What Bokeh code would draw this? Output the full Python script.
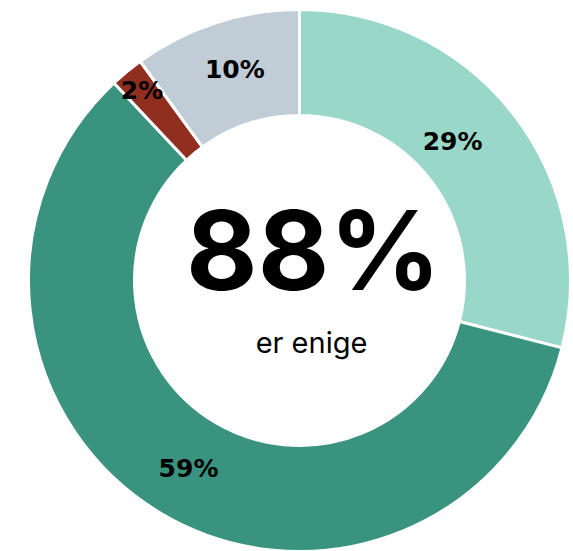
import math
from bokeh.plotting import figure
from bokeh.models import ColumnDataSource
from bokeh.core.properties import value
from bokeh.embed import file_html
from bokeh.resources import INLINE

# Data
categories = ["Enig", "Helt enig", "Helt uenig", "Uenig"]
shares = [29, 59, 2, 10]
labels = ["29%", "59%", "2%", "10%"]
colors = ["#99d8c9", "#3a937f", "#902e20", "#c0ccd6"]
center_value = "88%"
center_caption = "er enige"

# layout
R_OUT, R_IN = 271, 165
label_r = [207, 218, 247, 221]
label_shift_deg = [-4.5, 0, 0, 1]

total = sum(shares)
starts, ends, lx, ly = [], [], [], []
cum = 0.0
for i, s in enumerate(shares):
    a0 = cum / total * 2 * math.pi
    cum += s
    a1 = cum / total * 2 * math.pi
    # clockwise from top -> bokeh counterclockwise from +x
    starts.append(math.pi / 2 - a1)
    ends.append(math.pi / 2 - a0)
    mid = (a0 + a1) / 2 + math.radians(label_shift_deg[i])
    lx.append(label_r[i] * math.sin(mid))
    ly.append(label_r[i] * math.cos(mid))

src = ColumnDataSource(dict(cat=categories, start=starts, end=ends, color=colors,
                            lx=lx, ly=ly, label=labels))

W, H = 573, 551
CX, CY = 299, 280
p = figure(width=W, height=H, output_backend="svg", toolbar_location=None,
           x_range=(-CX, W - CX), y_range=(CY - H, CY), min_border=0,
           match_aspect=False)
p.axis.visible = False
p.grid.visible = False
p.outline_line_color = None
p.background_fill_color = "white"
p.border_fill_color = "white"

p.annular_wedge(x=0, y=0, inner_radius=R_IN, outer_radius=R_OUT,
                start_angle="start", end_angle="end", fill_color="color",
                line_color="white", line_width=3, source=src)

p.text(x="lx", y="ly", text="label", source=src, text_align="center",
       text_baseline="middle", text_font=value("DejaVu Sans"), text_font_style="bold",
       text_font_size="25px", text_color="black")

p.text(x=[14], y=[31], text=[center_value], text_align="center",
       text_baseline="alphabetic", text_font=value("Inter"), text_font_style="bold",
       text_font_size="110px", text_color="black")
p.text(x=[12], y=[-62], text=[center_caption], text_align="center",
       text_baseline="alphabetic", text_font=value("Inter"),
       text_font_size="29px", text_color="black")

open("out.html", "w").write(file_html(p, INLINE))
